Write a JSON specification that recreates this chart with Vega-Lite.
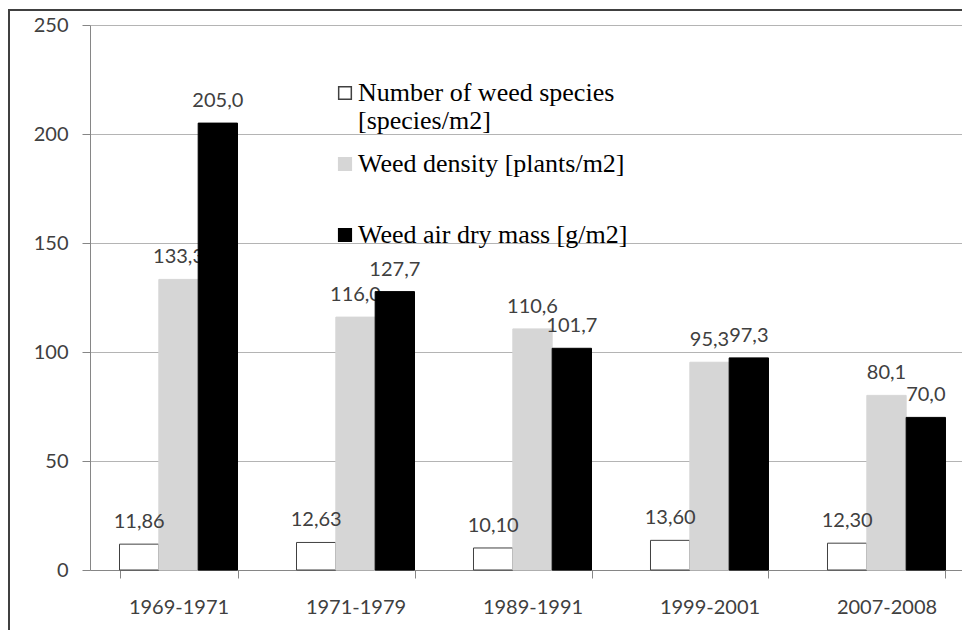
{
  "$schema": "https://vega.github.io/schema/vega-lite/v6.json",
  "width": 990,
  "height": 640,
  "autosize": {"type": "none"},
  "padding": {"left": 9, "top": 10, "right": 0, "bottom": 0},
  "background": "white",
  "config": {
    "locale": {"number": {"decimal": ",", "thousands": ".", "grouping": [3], "currency": ["", ""]}},
    "view": {"stroke": "#404040", "strokeWidth": 2}
  },
  "data": {"values": [
    {"period": "1969-1971", "series": "Number of weed species [species/m2]", "value": 11.86},
    {"period": "1969-1971", "series": "Weed density [plants/m2]", "value": 133.3},
    {"period": "1969-1971", "series": "Weed air dry mass [g/m2]", "value": 205.0},
    {"period": "1971-1979", "series": "Number of weed species [species/m2]", "value": 12.63},
    {"period": "1971-1979", "series": "Weed density [plants/m2]", "value": 116.0},
    {"period": "1971-1979", "series": "Weed air dry mass [g/m2]", "value": 127.7},
    {"period": "1989-1991", "series": "Number of weed species [species/m2]", "value": 10.10},
    {"period": "1989-1991", "series": "Weed density [plants/m2]", "value": 110.6},
    {"period": "1989-1991", "series": "Weed air dry mass [g/m2]", "value": 101.7},
    {"period": "1999-2001", "series": "Number of weed species [species/m2]", "value": 13.60},
    {"period": "1999-2001", "series": "Weed density [plants/m2]", "value": 95.3},
    {"period": "1999-2001", "series": "Weed air dry mass [g/m2]", "value": 97.3},
    {"period": "2007-2008", "series": "Number of weed species [species/m2]", "value": 12.30},
    {"period": "2007-2008", "series": "Weed density [plants/m2]", "value": 80.1},
    {"period": "2007-2008", "series": "Weed air dry mass [g/m2]", "value": 70.0}
  ]},
  "encoding": {
    "x": {
      "field": "period", "type": "nominal", "sort": null,
      "scale": {"range": [81, 966], "paddingInner": 0.3333, "paddingOuter": 0.1667},
      "axis": {
        "title": null, "labelAngle": 0, "labelFont": "Lato", "labelFontSize": 20,
        "labelColor": "#404040", "labelPadding": 19, "tickBand": "extent",
        "tickSize": 8, "tickColor": "#868686", "domainColor": "#868686", "grid": false,
        "offset": -80
      }
    },
    "xOffset": {
      "field": "series", "type": "nominal",
      "scale": {"domain": ["Number of weed species [species/m2]", "Weed density [plants/m2]", "Weed air dry mass [g/m2]"], "paddingInner": 0, "paddingOuter": 0}
    },
    "y": {
      "field": "value", "type": "quantitative",
      "scale": {"domain": [0, 250], "range": [560, 15], "nice": false},
      "axis": {
        "title": null, "values": [0, 50, 100, 150, 200, 250], "format": "d",
        "labelFont": "Lato", "labelFontSize": 20, "labelColor": "#404040", "labelPadding": 14,
        "tickSize": 8, "tickColor": "#868686", "domainColor": "#868686",
        "gridColor": "#b4b4b4", "grid": true, "offset": -81
      }
    }
  },
  "layer": [
    {
      "transform": [{"filter": "datum.series != 'Weed air dry mass [g/m2]'"}],
      "mark": {"type": "bar", "strokeWidth": 1},
      "encoding": {
        "fill": {
          "field": "series", "type": "nominal",
          "scale": {"domain": ["Number of weed species [species/m2]", "Weed density [plants/m2]", "Weed air dry mass [g/m2]"], "range": ["#ffffff", "#d6d6d6", "#000000"]},
          "legend": {
            "orient": "none", "legendX": 323, "legendY": 70, "title": null,
            "symbolType": "square", "symbolSize": 160, "labelFont": "Liberation Serif",
            "labelFontSize": 26, "labelColor": "#000000", "labelLimit": 700, "labelOffset": 0,
            "rowPadding": 17,
            "labelExpr": "datum.label == 'Number of weed species [species/m2]' ? ['Number of weed species', '[species/m2]'] : datum.label == 'Weed density [plants/m2]' ? ['Weed density [plants/m2]', ' '] : datum.label"
          }
        },
        "stroke": {
          "field": "series", "type": "nominal",
          "scale": {"domain": ["Number of weed species [species/m2]", "Weed density [plants/m2]", "Weed air dry mass [g/m2]"], "range": ["#404040", "#d6d6d6", "#000000"]},
          "legend": {
            "orient": "none", "legendX": 323, "legendY": 70, "title": null,
            "symbolType": "square", "symbolSize": 160, "labelFont": "Liberation Serif",
            "labelFontSize": 26, "labelColor": "#000000", "labelLimit": 700, "labelOffset": 0,
            "rowPadding": 17,
            "labelExpr": "datum.label == 'Number of weed species [species/m2]' ? ['Number of weed species', '[species/m2]'] : datum.label == 'Weed density [plants/m2]' ? ['Weed density [plants/m2]', ' '] : datum.label"
          }
        }
      }
    },
    {
      "transform": [{"filter": "datum.series == 'Number of weed species [species/m2]'"}],
      "mark": {"type": "text", "baseline": "middle", "dy": -22, "fontSize": 20, "font": "Lato", "color": "#404040"},
      "encoding": {"text": {"field": "value", "type": "quantitative", "format": ".2f"}}
    },
    {
      "transform": [{"filter": "datum.series == 'Weed density [plants/m2]'"}],
      "mark": {"type": "text", "baseline": "middle", "dy": -22, "fontSize": 20, "font": "Lato", "color": "#404040"},
      "encoding": {"text": {"field": "value", "type": "quantitative", "format": ".1f"}}
    },
    {
      "transform": [{"filter": "datum.series == 'Weed air dry mass [g/m2]'"}],
      "mark": {"type": "bar", "strokeWidth": 1},
      "encoding": {
        "fill": {"field": "series", "type": "nominal"},
        "stroke": {"field": "series", "type": "nominal"}
      }
    },
    {
      "transform": [{"filter": "datum.series == 'Weed air dry mass [g/m2]'"}],
      "mark": {"type": "text", "baseline": "middle", "dy": -22, "fontSize": 20, "font": "Lato", "color": "#404040"},
      "encoding": {"text": {"field": "value", "type": "quantitative", "format": ".1f"}}
    }
  ]
}
